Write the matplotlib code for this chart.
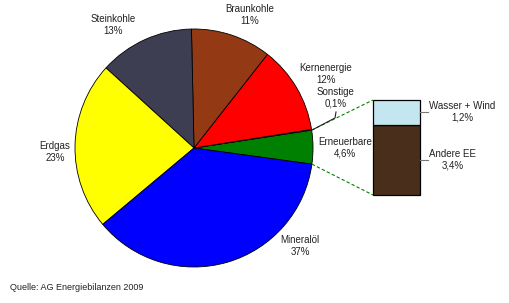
import numpy as np
import matplotlib
matplotlib.use('Agg')
import matplotlib.pyplot as plt

plt.rcParams['font.family'] = ['Liberation Sans', 'DejaVu Sans']

# Anteile am Primärenergieverbrauch (Prozent)
labels = ["Erneuerbare", "Sonstige", "Kernenergie", "Braunkohle", "Steinkohle", "Erdgas", "Mineralöl"]
shares = [4.6, 0.1, 12, 11, 13, 23, 37]
colors = ["#008000", "#FF99CC", "#FF0000", "#933A14", "#3E3E52", "#FFFF00", "#0000FF"]

# Aufteilung der Erneuerbaren (Balken rechts)
ee_labels = ["Andere EE", "Wasser + Wind"]
ee_shares = [3.4, 1.2]
ee_colors = ["#4A2E1C", "#C4E6F0"]

quelle = "Quelle: AG Energiebilanzen 2009"


def fmt(v):
    return f"{v:g}".replace('.', ',') + "%"


W, H = 510, 303
fig = plt.figure(figsize=(W / 100, H / 100), dpi=100)
ax = fig.add_axes([0, 0, 1, 1])

cx, cy, r = 194, 155, 119
wedges, _ = ax.pie(shares, colors=colors, startangle=-7.8, counterclock=True,
                   center=(cx, cy), radius=r, frame=True,
                   wedgeprops=dict(edgecolor='black', linewidth=0.6))
ax.set_xlim(0, W)
ax.set_ylim(0, H)
ax.set_aspect('equal')
ax.axis('off')

# Beschriftungen der Tortenstücke
label_pos = {
    "Steinkohle": (113, 278),
    "Braunkohle": (250, 288),
    "Kernenergie": (326, 229),
    "Sonstige": (336, 205),
    "Erneuerbare": (345, 155),
    "Erdgas": (55, 151),
    "Mineralöl": (300, 57),
}
for name, v in zip(labels, shares):
    x, y = label_pos[name]
    ax.text(x, y, f"{name}\n{fmt(v)}", ha='center', va='center', fontsize=7,
            linespacing=1.15, color='#222222')

# Führungslinie zu "Sonstige"
w_s = wedges[1]
th = np.deg2rad((w_s.theta1 + w_s.theta2) / 2)
ex, ey = cx + r * np.cos(th), cy + r * np.sin(th)
ax.plot([ex + 1, 335, 336], [ey, 185, 191], color='#222222', lw=0.8, zorder=5)

# Balken für die Erneuerbaren
bx, bw = 396.5, 47
b_bottom, b_height = 108, 95
scale = b_height / sum(ee_shares)
bottom = b_bottom
ee_mid = []
for name, v, c in zip(ee_labels, ee_shares, ee_colors):
    ax.bar(bx, v * scale, width=bw, bottom=bottom, color=c, edgecolor='black', linewidth=0.9)
    ee_mid.append(bottom + v * scale / 2)
    bottom += v * scale

ee_label_pos = [(453, 143), (462, 191)]
for name, v, ym, (tx, ty) in zip(ee_labels, ee_shares, ee_mid, ee_label_pos):
    ax.plot([bx + bw / 2, bx + bw / 2 + 8], [ym, ym], color='#777777', lw=0.8)
    ax.text(tx, ty, f"{name}\n{fmt(v)}", ha='center', va='center', fontsize=7,
            linespacing=1.15, color='#222222')

# Verbindungslinien Torte -> Balken
w_e = wedges[0]
for ang, yb in [(w_e.theta2, bottom), (w_e.theta1, b_bottom)]:
    t = np.deg2rad(ang)
    ax.plot([cx + r * np.cos(t), bx - bw / 2], [cy + r * np.sin(t), yb],
            color='#008000', lw=0.8, ls=(0, (3, 2)))

ax.text(10, 15, quelle, ha='left', va='center', fontsize=6.5, color='#222222')

fig.savefig("out.png", dpi=100, facecolor='white')
